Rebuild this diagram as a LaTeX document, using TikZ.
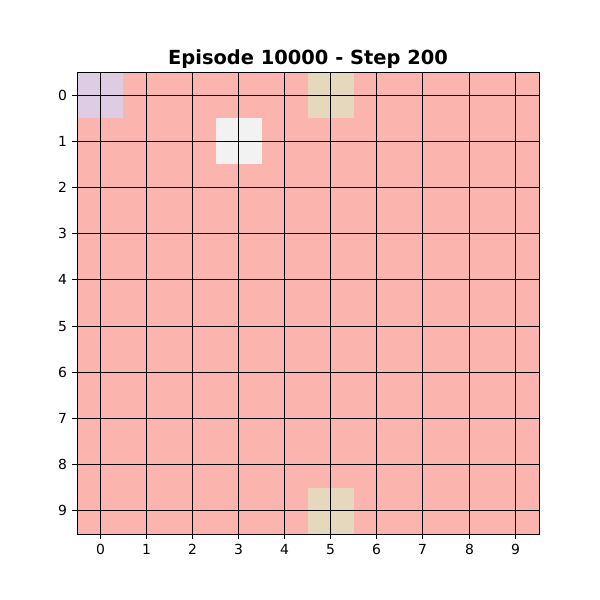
\documentclass[tikz,border=0pt]{standalone}
\usepackage{fontspec}
\setmainfont{DejaVu Sans}
\definecolor{cellpink}{HTML}{FBB4AE}
\definecolor{celllilac}{HTML}{DECBE4}
\definecolor{cellsand}{HTML}{E5D8BD}
\definecolor{cellgrey}{HTML}{F2F2F2}
\tikzstyle{gridline} = [black, line width=0.9pt]
\tikzstyle{spine} = [black, line width=0.9pt]
\tikzstyle{tick} = [black, line width=0.8pt]
\tikzstyle{ticklabel} = [font=\fontsize{10}{12}\selectfont, inner sep=0pt]
\tikzstyle{plottitle} = [font=\fontsize{14}{17}\selectfont\bfseries, inner sep=0pt]

% one cell of the grid: column, row, colour
\newcommand{\gridcell}[3]{
  \fill[#3] (77+46.2*#1,72+46.2*#2) rectangle (77+46.2*#1+46.2,72+46.2*#2+46.2);
}

\begin{document}
\begin{tikzpicture}[x=0.72pt, y=-0.72pt]
\useasboundingbox (0,0) rectangle (600,600);

% background of the board
\fill[cellpink] (77,72) rectangle (539,534);
\gridcell{0}{0}{celllilac}
\gridcell{5}{0}{cellsand}
\gridcell{3}{1}{cellgrey}
\gridcell{5}{9}{cellsand}

% grid lines through cell centres
\foreach \p [count=\i from 0] in {100.5,146.5,192.5,238.5,284.5,330.5,376.5,422.5,469.5,515.5} {
  \draw[gridline] (\p,72) -- (\p,534);
  \draw[tick] (\p,534) -- (\p,538.9);
  \node (xlab\i) [ticklabel, anchor=north] at (\p,543.8) {\i};
}
\foreach \p [count=\i from 0] in {95.5,141.5,187.5,233.5,279.5,326.5,372.5,418.5,464.5,510.5} {
  \draw[gridline] (77,\p) -- (539,\p);
  \draw[tick] (77,\p) -- (72.1,\p);
  \node (ylab\i) [ticklabel, anchor=east] at (67.2,\p) {\i};
}

% frame
\draw[spine] (77.5,72.5) rectangle (539.5,534.5);

\node (title) [plottitle, anchor=base] at (308,64) {Episode 10000 - Step 200};

\end{tikzpicture}
\end{document}
